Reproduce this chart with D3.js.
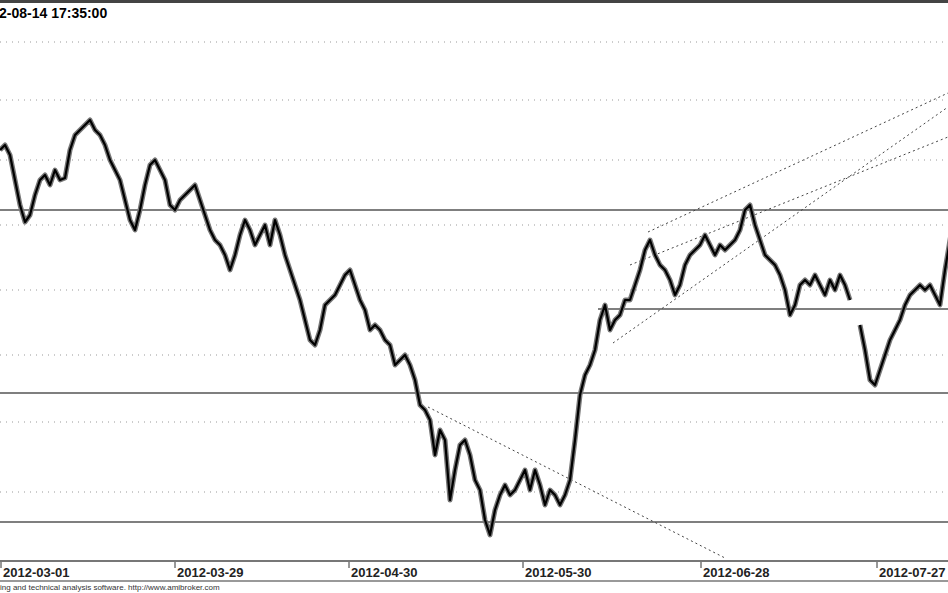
<!DOCTYPE html>
<html><head><meta charset="utf-8">
<script src="https://cdn.jsdelivr.net/npm/d3@7"></script>
<style>body{margin:0;background:#fff}svg{display:block}text{font-family:"Liberation Sans",Arial,sans-serif}</style>
</head><body><svg id="c" width="948" height="593"></svg>
<script>
const prices=[145,145.5,144.5,142,139.5,137.8,138.5,140.5,142,142.5,141.5,143,142,142.2,145,146.5,147,147.5,148,147,146.5,145.5,144,143,142,140,138,137,139,141.5,143.5,144,143,142,139.5,139,140,140.5,141,141.5,140,138.5,137,136,135.5,134.5,133,134.5,136.5,138,137,135.5,136.5,137.5,135.5,138,136.5,134.5,133,131.5,130,128,126,125.5,127,129.5,130,130.5,131.5,132.5,133,131.5,130,129,127,127.5,127,126,125.5,123.5,124,124.5,123.5,122,119.5,119,118,114.5,117,116,110,113,115.5,116,114.5,112,111,108,106.5,109,110.5,111.5,110.5,111,112,113,111,113,111.5,109.5,111,110.5,109.5,110.5,112,116,120.5,122.5,123.5,125,128,129.5,127,128,128.5,130,130,131.5,133,135,136,134.5,133.5,133,132,130.5,131.5,133.5,134.5,135,135.5,136.5,135.5,134.5,135.5,135,135.5,136,137,139,139.5,137.5,136,134.5,134,133.5,132.5,131,128.5,129.5,131.5,132,131.5,132.5,131.5,130.5,132,131,132.5,131.5,130,null,127.5,125,122,121.5,123,124.5,126,127,128,129.5,130.5,131,131.5,131,131.5,130.5,129.5,133,136,139,139];
const dottedLevels=[155.8,150,144,137.5,131,124.5,117.8,110.8];
const solidLevels=[139,120.7,107.8];
const partialLevel={from:119.6,price:129.1};
const trendLines=[[129.6,136.8,189.6,150.7],[126,133.5,189.6,146.3],[122.6,125.7,189.6,149.3],[85.6,119.3,145,104.2]];
const tickBars=[0,34.8,69.6,104.4,140,175.2];
const tickLabels=["2012-03-01","2012-03-29","2012-04-30","2012-05-30","2012-06-28","2012-07-27"];
const title="2-08-14 17:35:00";
const footer="ing and technical analysis software. http://www.amibroker.com";

const svg=d3.select("#c");
const x=d3.scaleLinear().domain([0,189.6]).range([0,948]);
const y=d3.scaleLinear().domain([160,100]).range([0,600]);
svg.append("defs").append("clipPath").attr("id","pc").append("rect").attr("x",0).attr("y",3).attr("width",948).attr("height",557);
const g=svg.append("g").attr("clip-path","url(#pc)");
g.selectAll(".dl").data(dottedLevels).join("line").attr("x1",0).attr("x2",948)
 .attr("y1",d=>y(d)).attr("y2",d=>y(d)).attr("stroke","#999").attr("stroke-dasharray","1,5");
g.selectAll(".sl").data(solidLevels).join("line").attr("x1",0).attr("x2",948)
 .attr("y1",d=>y(d)).attr("y2",d=>y(d)).attr("stroke","#555").attr("stroke-width",1.3);
g.append("line").attr("x1",x(partialLevel.from)).attr("x2",948).attr("y1",y(partialLevel.price)).attr("y2",y(partialLevel.price)).attr("stroke","#555").attr("stroke-width",1.3);
g.selectAll(".tl").data(trendLines).join("line").attr("x1",d=>x(d[0])).attr("y1",d=>y(d[1])).attr("x2",d=>x(d[2])).attr("y2",d=>y(d[3]))
 .attr("stroke","#444").attr("stroke-dasharray","2,3");
const line=d3.line().defined(d=>d!=null).x((d,i)=>x(i)).y(d=>y(d)).curve(d3.curveLinear);
g.append("path").datum(prices).attr("d",line).attr("fill","none").attr("stroke","#777").attr("stroke-width",5).attr("stroke-linejoin","round");
g.append("path").datum(prices).attr("d",line).attr("fill","none").attr("stroke","#000").attr("stroke-width",2.2).attr("stroke-linejoin","round");
svg.append("line").attr("x1",0).attr("x2",948).attr("y1",1.5).attr("y2",1.5).attr("stroke","#444").attr("stroke-width",3);
svg.append("text").attr("x",-1).attr("y",18).attr("font-size",14).attr("font-weight","bold").text(title);
svg.append("line").attr("x1",0).attr("x2",948).attr("y1",561).attr("y2",561).attr("stroke","#777").attr("stroke-width",2);
svg.append("line").attr("x1",0).attr("x2",948).attr("y1",581).attr("y2",581).attr("stroke","#777").attr("stroke-width",1.5);
const ax=svg.append("g");
ax.selectAll("line").data(tickBars).join("line").attr("x1",d=>x(d)+1).attr("x2",d=>x(d)+1).attr("y1",562).attr("y2",568).attr("stroke","#333");
ax.selectAll("text").data(tickBars).join("text").attr("x",d=>x(d)+3).attr("y",577).attr("font-size",13).attr("font-weight","bold").attr("fill","#222").text((d,i)=>tickLabels[i]);
svg.append("text").attr("x",0).attr("y",590).attr("font-size",8).attr("fill","#333").text(footer);
</script></body></html>
